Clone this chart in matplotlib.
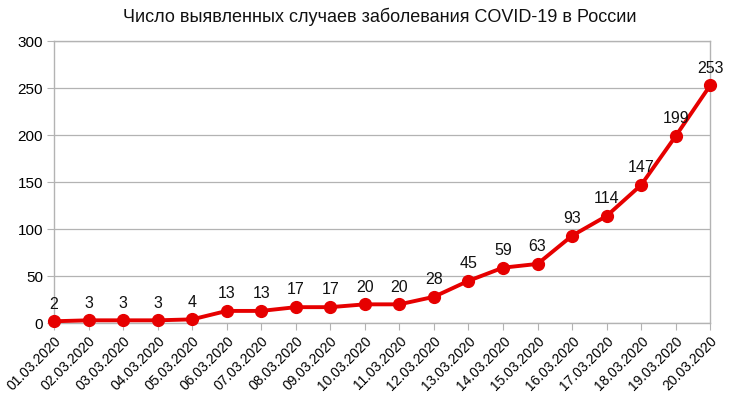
import matplotlib
matplotlib.use("Agg")
import matplotlib.pyplot as plt

plt.rcParams['font.family'] = ['Liberation Sans', 'DejaVu Sans']

dates = ["01.03.2020", "02.03.2020", "03.03.2020", "04.03.2020", "05.03.2020",
         "06.03.2020", "07.03.2020", "08.03.2020", "09.03.2020", "10.03.2020",
         "11.03.2020", "12.03.2020", "13.03.2020", "14.03.2020", "15.03.2020",
         "16.03.2020", "17.03.2020", "18.03.2020", "19.03.2020", "20.03.2020"]
cases = [2, 3, 3, 3, 4, 13, 13, 17, 17, 20, 20, 28, 45, 59, 63, 93, 114, 147, 199, 253]
yticks = [0, 50, 100, 150, 200, 250, 300]

fig = plt.figure(figsize=(7.34, 3.96), dpi=100)
ax = fig.add_axes([0.0736, 0.184, 0.894, 0.712])

x = list(range(len(dates)))
ax.plot(x, cases, color='#e60000', lw=2.8, marker='o', ms=8.5, zorder=3, clip_on=False)
for xi, v in zip(x, cases):
    ax.annotate(str(v), (xi, v), xytext=(0, 7), textcoords='offset points',
                ha='center', va='bottom', fontsize=11.5, color='#111111')

ax.set_xlim(0, len(dates) - 1)
ax.set_ylim(0, 300)
ax.set_yticks(yticks)
ax.set_xticks(x)
ax.set_xticklabels(dates, rotation=45, ha='right', rotation_mode='anchor', fontsize=10)
ax.tick_params(axis='y', labelsize=11, length=5, color='#b3b3b3', pad=3)
ax.tick_params(axis='x', length=5, color='#b3b3b3', pad=3)
ax.grid(axis='y', color='#b3b3b3', lw=0.9)
ax.set_axisbelow(True)
for s in ax.spines.values():
    s.set_color('#b3b3b3')
    s.set_linewidth(1)

fig.suptitle("Число выявленных случаев заболевания COVID-19 в России",
             x=0.518, y=0.98, fontsize=13, color='#111111')

fig.savefig("out.png", dpi=100)
